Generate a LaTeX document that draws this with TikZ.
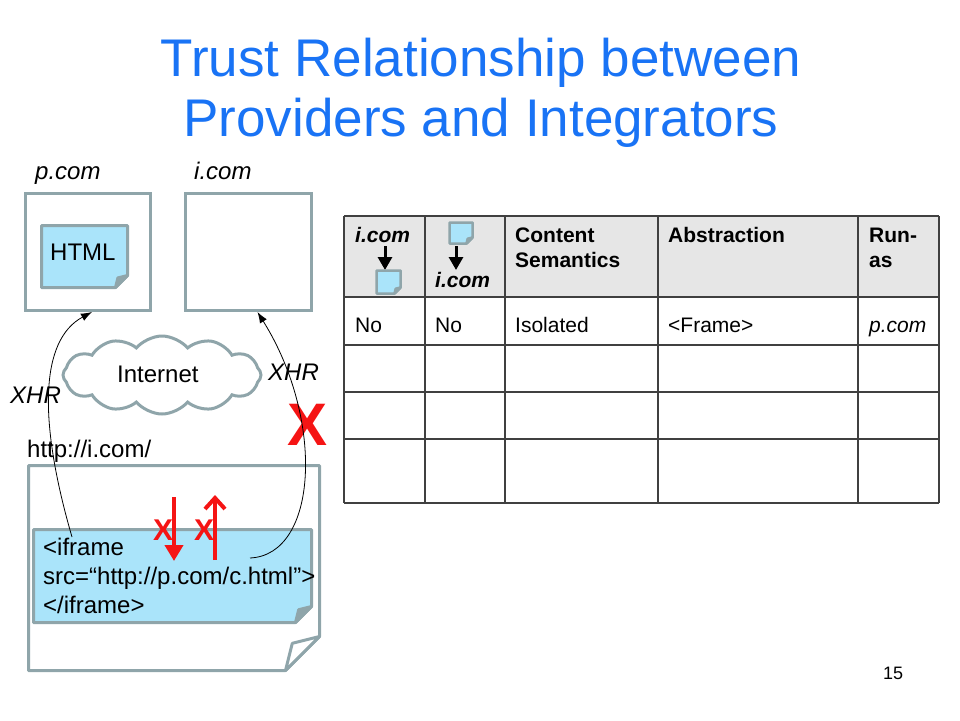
\documentclass[tikz,border=0pt]{standalone}
\usepackage{fontspec}
\setmainfont{Liberation Sans}
\usetikzlibrary{shapes.symbols}
\usetikzlibrary{calc}
\usetikzlibrary{arrows.meta}
\definecolor{caixa}{RGB}{143,165,170}
\definecolor{azulclaro}{RGB}{170,228,250}
\definecolor{titulo}{RGB}{25,115,245}
\definecolor{vermelho}{RGB}{245,20,20}
\definecolor{cabecalho}{RGB}{230,230,230}
\definecolor{grade}{RGB}{64,64,64}
\tikzset{janela/.style={draw=caixa,line width=3pt,fill=white,inner sep=0pt}}
\tikzset{forma/.style={inner sep=0pt,outer sep=0pt}}
\tikzset{folha/.style={draw=caixa,line width=#1,line join=round},folha/.default=3pt}
\tikzset{texto/.style={inner sep=0pt,anchor=base west,font=\fontsize{24}{29}\selectfont}}
\tikzset{tabela/.style={inner sep=0pt,anchor=base west,font=\fontsize{21}{25}\selectfont}}
\tikzset{xhr/.style={line width=0.8pt,-{Latex[length=11pt,width=8pt]}}}
\tikzset{proibido/.style={draw=vermelho,line width=4pt}}
\tikzset{seta/.style={line width=3pt,-{Triangle[length=13pt,width=14pt]}}}

% folha com canto dobrado: no, tamanho da dobra, cor, cor da dobra, espessura
\newcommand{\dobra}[5]{%
	\draw [folha=#5, fill=#3] (#1.north west) -- (#1.north east) --
		($(#1.south east)+(0,-#2)$) -- ($(#1.south east)+(-#2,0)$) --
		(#1.south west) -- cycle;
	\draw [folha=#5, fill=#4] ($(#1.south east)+(0,-#2)$) --
		($(#1.south east)+(-#2,0)$) -- ($(#1.south east)+(-0.8*#2,-0.8*#2)$) -- cycle;
}

\begin{document}
\begin{tikzpicture}[x=1pt,y=-1pt]

	\useasboundingbox (0,0) rectangle (960,720);

	% Titulo
	\node [inner sep=0pt, anchor=base, text=titulo, font=\fontsize{53}{60}\selectfont]
		(titulo1) at (481,76) {Trust Relationship between};
	\node [inner sep=0pt, anchor=base, text=titulo, font=\fontsize{53}{60}\selectfont]
		(titulo2) at (481,136) {Providers and Integrators};

	% As janelas p.com e i.com
	\node [texto, font=\fontsize{24}{29}\selectfont\itshape] (rotp) at (35,179) {p.com};
	\node [texto, font=\fontsize{24}{29}\selectfont\itshape] (roti) at (194,179) {i.com};
	\node [janela, minimum width=125pt, minimum height=117pt] (pcom) at (88,252) {};
	\node [janela, minimum width=126pt, minimum height=117pt] (icom) at (248.5,252) {};

	% A folha HTML
	\node [forma, minimum width=86pt, minimum height=62pt] (html) at (84.5,256.5) {};
	\dobra{html}{12}{azulclaro}{caixa}{3pt}
	\node [texto] (htmltexto) at (50,260) {HTML};

	% A nuvem
	\node [cloud, cloud puffs=12, cloud puff arc=100, aspect=2.6, draw=caixa, line width=3pt, fill=white,
		inner sep=0pt, minimum width=198pt, minimum height=78pt] (net) at (162,375) {};
	\node [texto] (nettexto) at (117,382) {Internet};

	% Rotulos XHR
	\node [texto, font=\fontsize{24}{29}\selectfont\itshape] (xhresq) at (10,403) {XHR};
	\node [texto, font=\fontsize{24}{29}\selectfont\itshape] (xhrdir) at (268,380) {XHR};

	% A pagina i.com
	\node [texto] (url) at (27,457) {http://i.com/};
	\node [forma, minimum width=291pt, minimum height=205pt] (pagina) at (174,568) {};
	\dobra{pagina}{34}{white}{white}{3pt}

	% O iframe
	\node [forma, minimum width=278pt, minimum height=93pt] (iframe) at (172.5,576) {};
	\dobra{iframe}{16}{azulclaro}{caixa}{3pt}
	\node [texto, align=left] (iframetexto) at (43,613)
		{<iframe\\src=“http://p.com/c.html”>\\</iframe>};

	% Os X vermelhos
	\node [texto, text=vermelho, font=\fontsize{60}{60}\selectfont\bfseries] (xgrande) at (287,445) {X};
	\node [texto, text=vermelho, font=\fontsize{30}{30}\selectfont\bfseries] (xa) at (153,540) {X};
	\node [texto, text=vermelho, font=\fontsize{30}{30}\selectfont\bfseries] (xb) at (194,540) {X};

	% Flechas vermelhas
	\coordinate (desceA) at (174,497);
	\coordinate (desceB) at (174,561);
	\coordinate (sobeA) at (215,560);
	\coordinate (sobeB) at (215,495);
	\draw [proibido, -{Triangle[length=16pt,width=18pt]}] (desceA) -- (desceB);
	\draw [proibido, -{Straight Barb[length=11pt,width=20pt]}] (sobeA) -- (sobeB);

	% Flechas XHR
	\coordinate (origemA) at (72,537);
	\coordinate (origemB) at (250,558);
	\draw [xhr] (origemA) .. controls (38,420) and (40,340) .. ([xshift=4pt]pcom.south);
	\draw [xhr] (origemB) .. controls (318,555) and (325,420) .. ([xshift=9pt]icom.south);

	% A tabela
	\fill [cabecalho] (344,216) rectangle (939,297);
	\foreach \x in {344,425,505,658,858,939}
		\draw [grade, line width=1.5pt] (\x,216) -- (\x,503);
	\foreach \y in {216,297,345,392,439,503}
		\draw [grade, line width=1.5pt] (344,\y) -- (939,\y);

	% Cabecalho da tabela
	\node [tabela, font=\fontsize{21}{25}\selectfont\bfseries\itshape] (cab1) at (355,242) {i.com};
	\coordinate (setaA1) at (385,246);
	\coordinate (setaA2) at (385,270);
	\draw [seta] (setaA1) -- (setaA2);
	\node [forma, minimum width=24pt, minimum height=23pt] (notaA) at (388.5,282) {};
	\dobra{notaA}{6}{azulclaro}{caixa}{2.5pt}
	\node [forma, minimum width=23pt, minimum height=21pt] (notaB) at (461,233) {};
	\dobra{notaB}{6}{azulclaro}{caixa}{2.5pt}
	\coordinate (setaB1) at (456,246);
	\coordinate (setaB2) at (456,270);
	\draw [seta] (setaB1) -- (setaB2);
	\node [tabela, font=\fontsize{21}{25}\selectfont\bfseries\itshape] (cab2) at (435,287) {i.com};
	\node [tabela, font=\fontsize{21}{25}\selectfont\bfseries, align=left] (cab3) at (515,267) {Content\\Semantics};
	\node [tabela, font=\fontsize{21}{25}\selectfont\bfseries] (cab4) at (668,242) {Abstraction};
	\node [tabela, font=\fontsize{21}{25}\selectfont\bfseries, align=left] (cab5) at (869,267) {Run-\\as};

	% Primeira linha
	\node [tabela] (lin1) at (355,332) {No};
	\node [tabela] (lin2) at (435,332) {No};
	\node [tabela] (lin3) at (515,332) {Isolated};
	\node [tabela] (lin4) at (668,332) {<Frame>};
	\node [tabela, font=\fontsize{21}{25}\selectfont\itshape] (lin5) at (869,332) {p.com};

	% Numero da pagina
	\node [inner sep=0pt, anchor=base west, font=\fontsize{18}{20}\selectfont] (numero) at (883,679) {15};

\end{tikzpicture}
\end{document}
